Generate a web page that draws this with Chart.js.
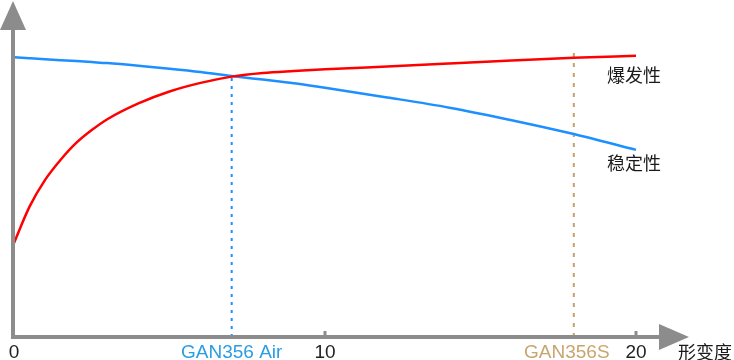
<!DOCTYPE html>
<html>
<head>
<meta charset="utf-8">
<script src="https://cdn.jsdelivr.net/npm/chart.js@4/dist/chart.umd.min.js"></script>
<style>
  html, body { margin: 0; padding: 0; background: #ffffff; }
  #wrap { width: 734px; height: 360px; position: relative; }
</style>
</head>
<body>
<div id="wrap"><canvas id="c" width="734" height="360"></canvas></div>
<script>
// ---- data ----
const deformation = [0, 0.5, 1, 1.5, 2, 2.5, 3, 4, 5, 6, 7, 8, 9, 10, 12, 14, 16, 18, 20];
const explosiveness = [28.5, 39.5, 47.6, 53.7, 58.8, 62.7, 66.0, 70.8, 74.4, 77.0, 78.9, 80.0, 80.6, 81.1, 82.0, 82.9, 83.8, 84.6, 85.2];
const stability = [84.8, 84.5, 84.2, 83.9, 83.6, 83.3, 83.0, 82.2, 81.3, 80.3, 79.1, 78.0, 76.9, 75.5, 72.6, 69.5, 65.7, 61.5, 56.7];
const seriesNames = ['爆发性', '稳定性'];
const productNames = ['GAN356 Air', 'GAN356S'];
const productPositions = [7, 18];
const productMarkerTops = [78.9, 86.4];
const xTicks = [0, 10, 20];
const xAxisTitle = '形变度';

const COL_RED = '#ff0000';
const COL_BLUE = '#1e8fff';
const COL_TAN = '#c8a064';
const COL_PRODUCT_TEXT = ['#2b9de4', '#c9a56e'];
const COL_AXIS = '#8c8c8c';

const toPts = (xs, ys) => xs.map((x, i) => ({ x: x, y: ys[i] }));

const overlay = {
  id: 'overlay',
  afterDatasetsDraw(chart) {
    const ctx = chart.ctx;
    const xs = chart.scales.x, ys = chart.scales.y;
    const x0 = xs.getPixelForValue(0);
    const yb = ys.getPixelForValue(0);
    ctx.save();
    ctx.fillStyle = COL_AXIS;
    // y axis
    ctx.fillRect(x0 - 3, 26, 4, yb - 26 + 2);
    ctx.beginPath();
    ctx.moveTo(x0 - 1, 1);
    ctx.lineTo(x0 + 12, 30);
    ctx.lineTo(x0 - 14, 30);
    ctx.closePath();
    ctx.fill();
    // x axis
    ctx.fillRect(x0 - 3, yb - 2, 663 - x0, 4);
    ctx.beginPath();
    ctx.moveTo(689, yb);
    ctx.lineTo(659, yb - 13);
    ctx.lineTo(659, yb + 13);
    ctx.closePath();
    ctx.fill();
    // tick marks
    xTicks.forEach(v => {
      if (v === 0) return;
      const px = xs.getPixelForValue(v);
      ctx.fillRect(px - 1.5, yb - 6, 3, 6);
    });
    // product labels
    ctx.font = '19px "Liberation Sans", Arial, sans-serif';
    ctx.textAlign = 'center';
    ctx.textBaseline = 'alphabetic';
    productNames.forEach((n, i) => {
      ctx.fillStyle = COL_PRODUCT_TEXT[i];
      const px = xs.getPixelForValue(productPositions[i]) + (i === 1 ? -7 : 0);
      ctx.fillText(n, px, 358);
    });
    // series labels
    ctx.fillStyle = '#1a1a1a';
    ctx.font = '18px "Noto Sans CJK SC", sans-serif';
    ctx.textAlign = 'left';
    ctx.textBaseline = 'middle';
    ctx.fillText(seriesNames[0], 607, 75);
    ctx.fillText(seriesNames[1], 607, 163);
    ctx.fillText(xAxisTitle, 678, 352);
    ctx.restore();
  }
};

new Chart(document.getElementById('c'), {
  type: 'line',
  data: {
    datasets: [
      {
        label: seriesNames[0],
        data: toPts(deformation, explosiveness),
        borderColor: COL_RED, borderWidth: 2.5, pointRadius: 0,
        cubicInterpolationMode: 'monotone', fill: false, clip: false, order: 1
      },
      {
        label: seriesNames[1],
        data: toPts(deformation, stability),
        borderColor: COL_BLUE, borderWidth: 2.5, pointRadius: 0,
        cubicInterpolationMode: 'monotone', fill: false, clip: false, order: 2
      },
      {
        label: productNames[0],
        data: [{ x: productPositions[0], y: 0 }, { x: productPositions[0], y: productMarkerTops[0] }],
        borderColor: COL_BLUE, borderWidth: 2, borderDash: [3, 5], pointRadius: 0, order: 3
      },
      {
        label: productNames[1],
        data: [{ x: productPositions[1], y: 0 }, { x: productPositions[1], y: productMarkerTops[1] }],
        borderColor: COL_TAN, borderWidth: 2, borderDash: [4, 6], pointRadius: 0, order: 4
      }
    ]
  },
  options: {
    responsive: false,
    animation: false,
    devicePixelRatio: 1,
    layout: { padding: { left: 14, top: 7, right: 98, bottom: 0 } },
    plugins: { legend: { display: false }, tooltip: { enabled: false } },
    scales: {
      x: {
        type: 'linear', min: 0, max: 20,
        grid: { display: false, drawTicks: false },
        border: { display: false },
        afterBuildTicks: s => { s.ticks = xTicks.map(v => ({ value: v })); },
        afterFit: s => { s.height = 23; },
        ticks: {
          padding: 4, color: '#222222', maxRotation: 0,
          font: { size: 19, family: '"Liberation Sans", Arial, sans-serif' }
        }
      },
      y: {
        type: 'linear', min: 0, max: 100, display: false
      }
    }
  },
  plugins: [overlay]
});
</script>
</body>
</html>
